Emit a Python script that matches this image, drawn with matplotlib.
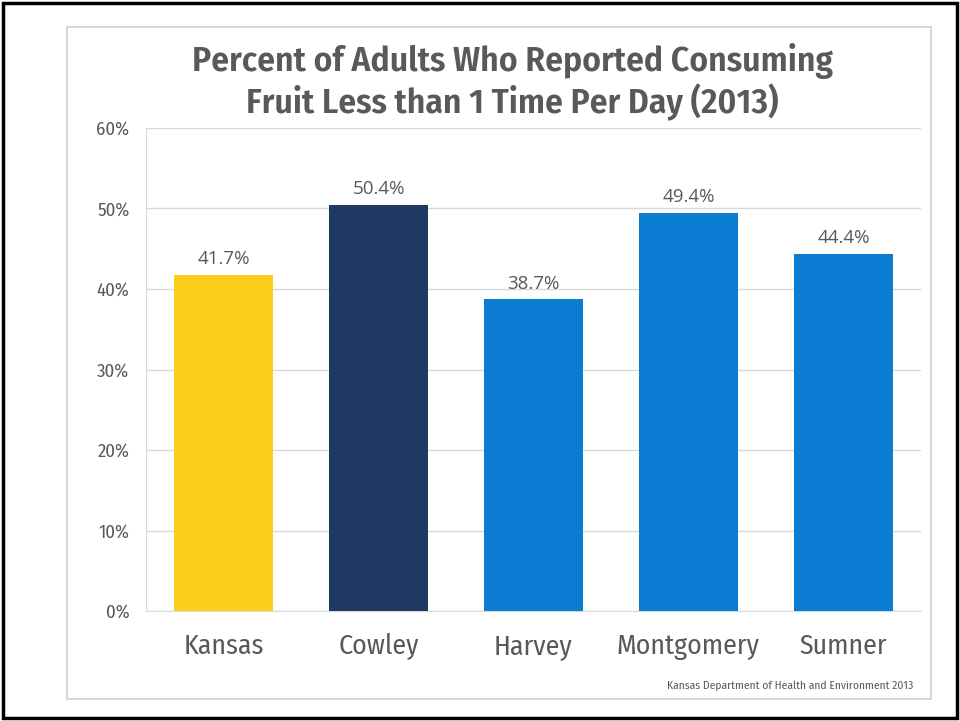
import matplotlib
matplotlib.use("Agg")
import matplotlib.pyplot as plt
from matplotlib.patches import Rectangle

categories = ["Kansas", "Cowley", "Harvey", "Montgomery", "Sumner"]
values = [41.7, 50.4, 38.7, 49.4, 44.4]
colors = ["#FDCD1C", "#1F3864", "#0A7DD3", "#0A7DD3", "#0A7DD3"]
yticks = [0, 10, 20, 30, 40, 50, 60]
title = "Percent of Adults Who Reported Consuming\nFruit Less than 1 Time Per Day (2013)"
source = "Kansas Department of Health and Environment 2013"

NARROW = ["Fira Sans Condensed", "DejaVu Sans"]
TXT = "#595959"

fig = plt.figure(figsize=(9.6, 7.21), dpi=100)
W, H = 960, 721

def fx(x):
    return x / W

def fy(y):
    return 1 - y / H

# outer black frame
fig.patches.append(Rectangle((fx(3), fy(718)), fx(954), (715) / H, transform=fig.transFigure,
                             fill=False, edgecolor="black", linewidth=2.5))
# inner gray frame
fig.patches.append(Rectangle((fx(67), fy(699)), fx(864), (672) / H, transform=fig.transFigure,
                             fill=False, edgecolor="#D0D0D0", linewidth=1.2))

ax = fig.add_axes([fx(146), fy(611), fx(921 - 146), (611 - 128) / H])
x = range(len(categories))
bars = ax.bar(x, values, width=0.635, color=colors, zorder=3)
ax.set_xlim(-0.5, len(categories) - 0.5)
ax.set_ylim(0, 60)
ax.set_yticks(yticks)
ax.set_yticklabels([f"{t}%" for t in yticks], family=NARROW, fontsize=13.5, color=TXT)
ax.set_xticks(list(x))
ax.set_xticklabels(categories, family=NARROW, fontsize=20, color=TXT)
ax.tick_params(axis="both", length=0)
ax.tick_params(axis="x", pad=16)
ax.tick_params(axis="y", pad=12)
ax.grid(axis="y", color="#D9D9D9", linewidth=1, zorder=0)
for s in ["top", "right"]:
    ax.spines[s].set_visible(False)
ax.spines["left"].set_color("#D9D9D9")
ax.spines["bottom"].set_color("#D9D9D9")

for xi, v in zip(x, values):
    ax.annotate(f"{v}%", (xi, v), xytext=(0, 5), textcoords="offset points",
                ha="center", va="bottom", fontsize=13.5, color=TXT, family="Open Sans")

fig.text(fx(512), fy(82), title, ha="center", va="center", fontsize=25.5, fontweight="semibold",
         color=TXT, family=NARROW, linespacing=1.15)
fig.text(fx(913), fy(686), source, ha="right", va="center", fontsize=8.3, color=TXT,
         family=NARROW)

fig.savefig("out.png", dpi=100)
